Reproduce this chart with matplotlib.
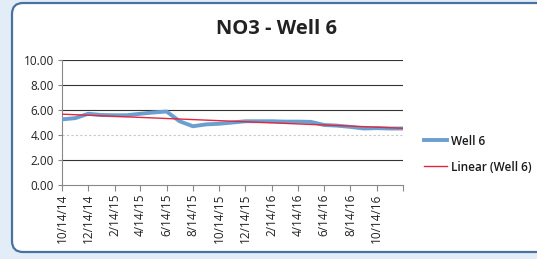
import matplotlib
matplotlib.use("Agg")
import matplotlib.pyplot as plt
import matplotlib.dates as mdates
from matplotlib.patches import FancyBboxPatch, Rectangle
from matplotlib.transforms import IdentityTransform
import numpy as np
import datetime as dt

# ---- data ----
dates = ["2014-10-14", "2014-11-14", "2014-12-14", "2015-01-14", "2015-02-14", "2015-03-14",
         "2015-04-14", "2015-05-14", "2015-06-14", "2015-07-14", "2015-08-14", "2015-09-14",
         "2015-10-14", "2015-11-14", "2015-12-14", "2016-01-14", "2016-02-14", "2016-03-14",
         "2016-04-14", "2016-05-14", "2016-06-14", "2016-07-14", "2016-08-14", "2016-09-14",
         "2016-10-14", "2016-11-14", "2016-12-14"]
well6 = [5.25, 5.35, 5.7, 5.6, 5.58, 5.58,
         5.7, 5.8, 5.88, 5.1, 4.7, 4.85,
         4.9, 5.0, 5.1, 5.1, 5.1, 5.07,
         5.07, 5.05, 4.8, 4.75, 4.65, 4.52,
         4.55, 4.52, 4.52]
tick_dates = ["2014-10-14", "2014-12-14", "2015-02-14", "2015-04-14", "2015-06-14", "2015-08-14",
              "2015-10-14", "2015-12-14", "2016-02-14", "2016-04-14", "2016-06-14", "2016-08-14",
              "2016-10-14", "2016-12-14"]
tick_labels = ["10/14/14", "12/14/14", "2/14/15", "4/14/15", "6/14/15", "8/14/15",
               "10/14/15", "12/14/15", "2/14/16", "4/14/16", "6/14/16", "8/14/16",
               "10/14/16", ""]
y_ticks = [0, 2, 4, 6, 8, 10]
title = "NO3 - Well 6"
series_name = "Well 6"
trend_name = "Linear (Well 6)"

plt.rcParams['font.family'] = ['Open Sans', 'DejaVu Sans']

W, H = 537, 259
fig = plt.figure(figsize=(W / 100, H / 100), dpi=100)
fig.patch.set_facecolor("white")

# outer light-blue glow and rounded frame (pixel coordinates)
fig.patches.append(Rectangle((0, 0), 1, 1, transform=fig.transFigure,
                             facecolor="#e3edf7", edgecolor="none", zorder=0))
frame = FancyBboxPatch((12, 7), 560, 249,
                       boxstyle="round,pad=0,rounding_size=11",
                       facecolor="white", edgecolor="#4a72a0", linewidth=1.6, zorder=1)
frame.set_transform(IdentityTransform())
fig.patches.append(frame)

ax = fig.add_axes([62 / W, 1 - 185 / H, (403 - 62) / W, (185 - 60) / H])
ax.set_facecolor("none")
ax.set_zorder(2)

x = [dt.datetime.strptime(d, "%Y-%m-%d") for d in dates]
xn = mdates.date2num(x)
ax.plot(x, well6, color="#6b9fcf", lw=2.8, solid_joinstyle="round", zorder=3, label=series_name)
coef = np.polyfit(xn, well6, 1)
ax.plot(x, np.polyval(coef, xn), color="#e2273f", lw=1.0, zorder=4, label=trend_name)

tx = [dt.datetime.strptime(d, "%Y-%m-%d") for d in tick_dates]
ax.set_xlim(tx[0], tx[-1])
ax.set_ylim(0, 10)
ax.set_xticks(tx)
ax.set_xticklabels(tick_labels, rotation=90, fontsize=8.5, color="#222222")
ax.set_yticks(y_ticks)
ax.set_yticklabels([f"{v:.2f}" for v in y_ticks], fontsize=8.5, color="#222222")

for v in y_ticks[1:]:
    if v == 4:
        ax.axhline(v, color="#c8c8c8", lw=0.8, ls=(0, (2, 2)), zorder=1)
    else:
        ax.axhline(v, color="#333333", lw=0.8, zorder=1)

for s in ["top", "right"]:
    ax.spines[s].set_visible(False)
for s in ["left", "bottom"]:
    ax.spines[s].set_color("#888888")
    ax.spines[s].set_linewidth(0.8)
ax.tick_params(axis="x", direction="out", length=4, color="#888888", pad=2)
ax.tick_params(axis="y", direction="out", length=3, color="#888888", pad=3)

fig.text(277 / W, 1 - 29 / H, title, ha="center", va="center", fontsize=14.5,
         fontweight="bold", color="#222222")

leg = fig.legend(loc="upper left", bbox_to_anchor=(413 / W, 1 - 124 / H), frameon=False,
                 fontsize=8.5, handlelength=2.0, handletextpad=0.3, labelspacing=1.1)
for t in leg.get_texts():
    t.set_color("#1a1a1a")
    t.set_fontweight("semibold")

fig.savefig("out.png", dpi=100)
